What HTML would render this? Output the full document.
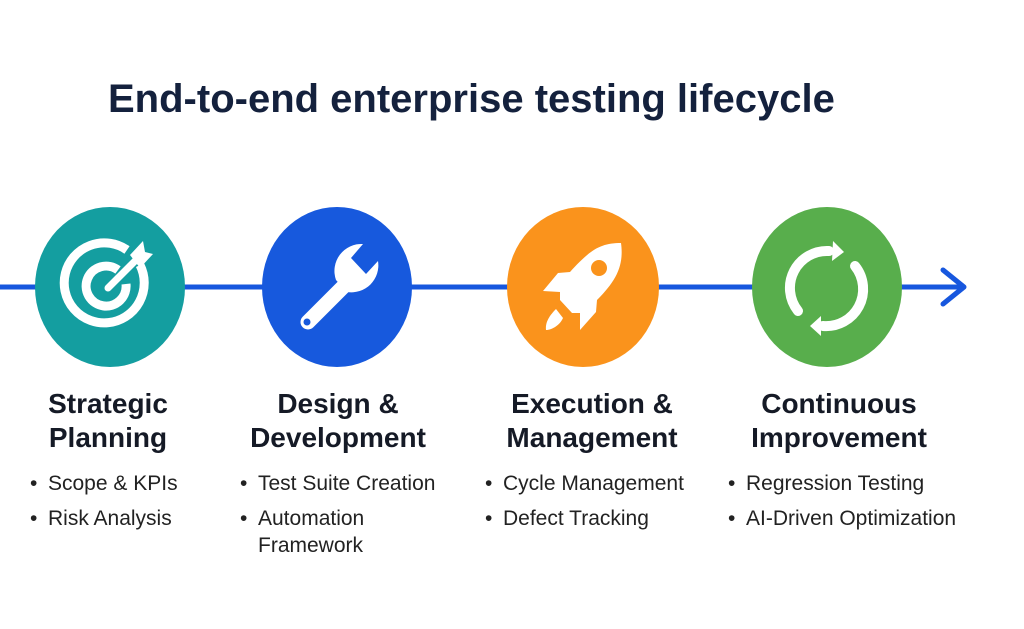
<!DOCTYPE html>
<html><head><meta charset="utf-8"><style>
html,body{margin:0;padding:0;background:#fff;}
body{width:1024px;height:629px;position:relative;overflow:hidden;font-family:"Liberation Sans",sans-serif;}
.t{position:absolute;left:108px;top:77px;font-size:40px;color:#14213d;font-weight:bold;white-space:nowrap;}
.h{position:absolute;width:260px;text-align:center;font-weight:bold;font-size:28px;line-height:34px;color:#151a26;top:387px;}
.b{position:absolute;font-size:21px;line-height:35px;color:#222;top:466px;white-space:nowrap;}
.b div{padding-left:18px;position:relative;}
.b div.i{line-height:27px;}
.b span.d{position:absolute;left:0;}
</style></head><body>
<div class="t">End-to-end enterprise testing lifecycle</div>
<svg width="1024" height="629" style="position:absolute;left:0;top:0">
<line x1="0" y1="287" x2="962" y2="287" stroke="#1757de" stroke-width="5"/>
<polyline points="943,270 964,287 943,304" fill="none" stroke="#1757de" stroke-width="5" stroke-linecap="round" stroke-linejoin="round"/>
<ellipse cx="110" cy="287" rx="75" ry="80" fill="#149ea0"/>
<ellipse cx="337" cy="287" rx="75" ry="80" fill="#1759dd"/>
<ellipse cx="583" cy="287" rx="76" ry="80" fill="#fa931c"/>
<ellipse cx="827" cy="287" rx="75" ry="80" fill="#58ae4c"/>
<g fill="none" stroke="#fff" stroke-width="9">
<path d="M127 250 A40 40 0 1 0 140 265"/>
<path d="M118 270 A20 20 0 1 0 126 284"/>
</g>
<line x1="108" y1="288" x2="142" y2="254" stroke="#fff" stroke-width="7" stroke-linecap="round"/>
<polygon points="130,255 143,241 145,252 153,254 140,268" fill="#fff"/>
<g fill="#fff">
<line x1="308" y1="322" x2="352" y2="278" stroke="#fff" stroke-width="15" stroke-linecap="round"/>
<path d="M363 244 L351 258 L366 274 L378 261 A27 27 0 0 1 347 292 L336 280 A27 27 0 0 1 363 244 Z"/>
<circle cx="307" cy="322" r="3.5" fill="#1759dd"/>
</g>
<g fill="#fff">
<path d="M621 243 C600 243 590 250 570 272 L558 273 L543 291 L560 292 L560 300 L572 313 L580 313 L580 330 L596 312 L597 300 C617 280 624 265 621 243 Z"/>
<circle cx="599" cy="268" r="8" fill="#fa931c"/>
<path d="M556 309 L563 318 C560 325 552 330 546 330 C545 322 550 315 556 309 Z"/>
</g>
<g fill="none" stroke="#fff" stroke-width="10" stroke-linecap="round">
<path d="M829 251 A37 37 0 0 0 798 311"/>
<path d="M855 266 A37 37 0 0 1 823 326"/>
</g>
<polygon points="833,241 844,252 832,261" fill="#fff"/>
<polygon points="821,316 810,326 821,336" fill="#fff"/>
</svg>
<div class="h" style="left:-22px">Strategic<br>Planning</div>
<div class="h" style="left:208px">Design &amp;<br>Development</div>
<div class="h" style="left:462px">Execution &amp;<br>Management</div>
<div class="h" style="left:709px">Continuous<br>Improvement</div>
<div class="b" style="left:30px"><div><span class="d">•</span>Scope &amp; KPIs</div><div><span class="d">•</span>Risk Analysis</div></div>
<div class="b" style="left:240px"><div><span class="d">•</span>Test Suite Creation</div><div class="i" style="margin-top:4px"><span class="d">•</span>Automation<br>Framework</div></div>
<div class="b" style="left:485px"><div><span class="d">•</span>Cycle Management</div><div><span class="d">•</span>Defect Tracking</div></div>
<div class="b" style="left:728px"><div><span class="d">•</span>Regression Testing</div><div><span class="d">•</span>AI-Driven Optimization</div></div>
</body></html>
